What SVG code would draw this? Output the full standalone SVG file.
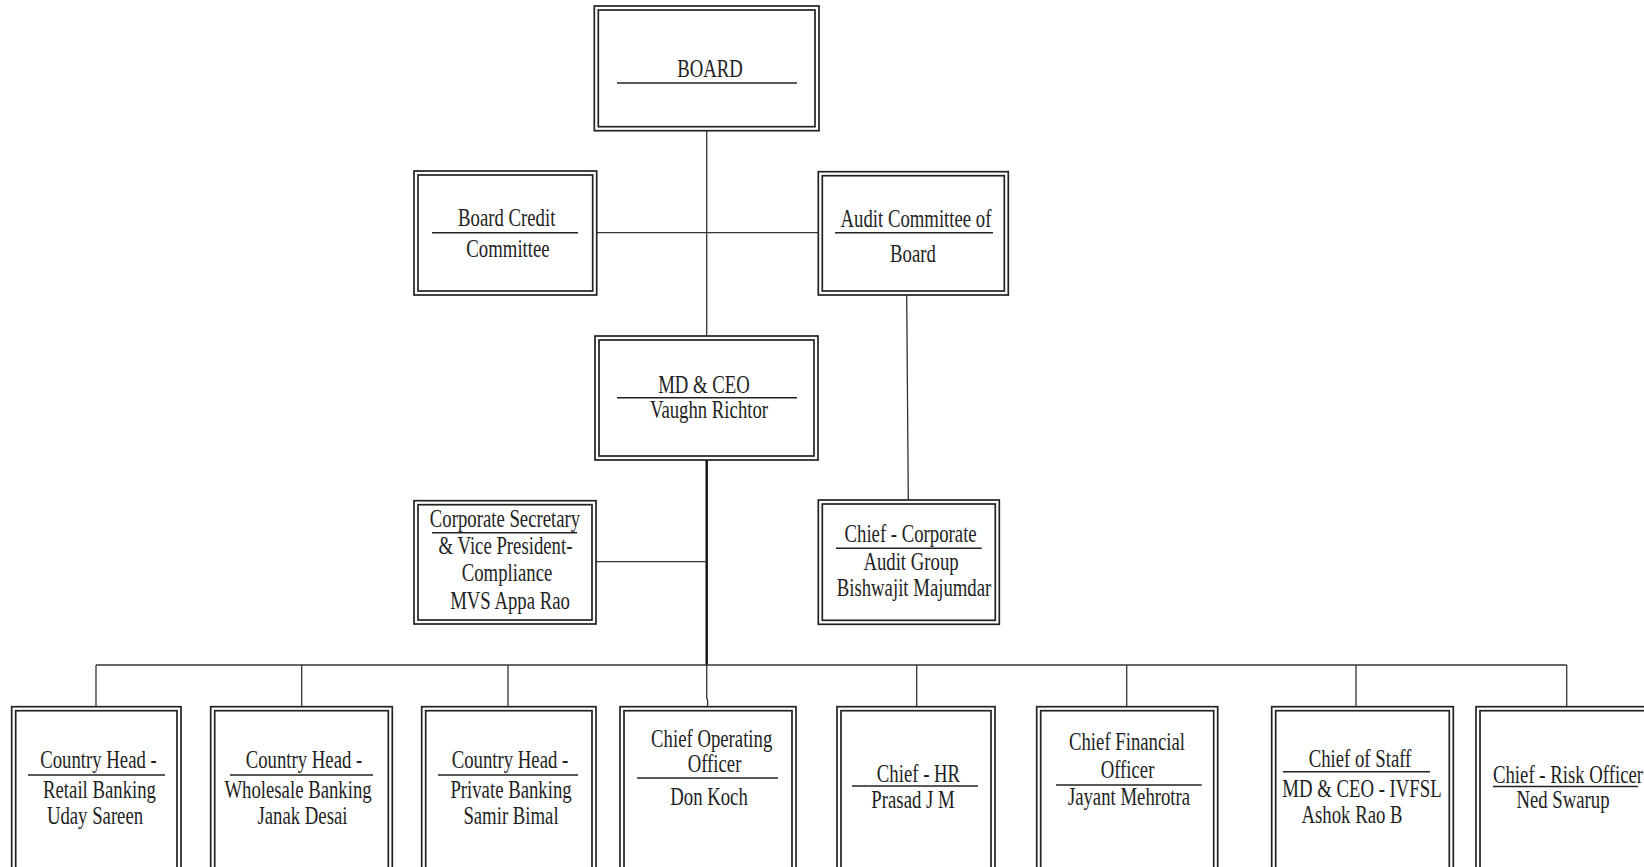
<svg xmlns="http://www.w3.org/2000/svg" width="1644" height="867" viewBox="0 0 1644 867">
<style>
.o{fill:none;stroke:#222;stroke-width:1.7}
.i{fill:none;stroke:#222;stroke-width:1.7}
.ul{stroke:#222;stroke-width:1.6}
.c{fill:none;stroke:#333;stroke-width:1.3}
.ct{fill:none;stroke:#111;stroke-width:2.4}
text{font-family:"Liberation Serif","Times New Roman",serif;font-size:25px;fill:#1e1e1e;text-anchor:middle}
.s{text-anchor:start}
</style>
<rect width="1644" height="867" fill="#fff"/>
<g id="connectors">
<line class="c" x1="706.7" y1="130.7" x2="706.7" y2="336"/>
<line class="c" x1="596.7" y1="232.7" x2="818.3" y2="232.7"/>
<line class="c" x1="906.7" y1="295" x2="908.3" y2="500"/>
<line class="ct" x1="706.7" y1="460" x2="706.7" y2="665"/>
<line class="c" x1="596" y1="561.7" x2="706.7" y2="561.7"/>
<line class="c" x1="96" y1="665" x2="1566.7" y2="665"/>
<line class="c" x1="96" y1="665" x2="96" y2="706.7"/>
<line class="c" x1="301.7" y1="665" x2="301.7" y2="706.7"/>
<line class="c" x1="508" y1="665" x2="508" y2="706.7"/>
<path class="c" d="M706.7 665 L706.7 698 L707.6 700 L707.6 706.7"/>
<line class="c" x1="916.7" y1="665" x2="916.7" y2="706.7"/>
<line class="c" x1="1126.7" y1="665" x2="1126.7" y2="706.7"/>
<line class="c" x1="1356" y1="665" x2="1356" y2="706.7"/>
<line class="c" x1="1566.7" y1="665" x2="1566.7" y2="706.7"/>
</g>
<g id="board">
<rect class="o" x="594.3" y="6" width="224.7" height="124.7"/>
<rect class="i" x="598.3" y="10" width="216.7" height="116.7"/>
<text transform="translate(710 77) scale(0.75 1)">BOARD</text>
<line class="ul" x1="617" y1="83" x2="797" y2="83"/>
</g>
<g id="board-credit">
<rect class="o" x="414" y="171" width="182.7" height="124"/>
<rect class="i" x="418" y="175" width="174.7" height="116"/>
<text transform="translate(506.7 225.7) scale(0.75 1)">Board Credit</text>
<line class="ul" x1="432" y1="232.7" x2="578" y2="232.7"/>
<text transform="translate(508 256.7) scale(0.75 1)">Committee</text>
</g>
<g id="audit-committee">
<rect class="o" x="818.3" y="171.7" width="190" height="123.3"/>
<rect class="i" x="822.3" y="175.7" width="182" height="115.3"/>
<text transform="translate(916 226.7) scale(0.75 1)">Audit Committee of</text>
<line class="ul" x1="835" y1="232.7" x2="993" y2="232.7"/>
<text transform="translate(913 261.7) scale(0.75 1)">Board</text>
</g>
<g id="md-ceo">
<rect class="o" x="595" y="336" width="223" height="124"/>
<rect class="i" x="599" y="340" width="215" height="116"/>
<text transform="translate(704 392.7) scale(0.75 1)">MD &amp; CEO</text>
<line class="ul" x1="617" y1="397.7" x2="797" y2="397.7"/>
<text transform="translate(709 418.3) scale(0.75 1)">Vaughn Richtor</text>
</g>
<g id="corporate-secretary">
<rect class="o" x="414" y="500.7" width="182" height="123.3"/>
<rect class="i" x="418" y="504.7" width="174" height="115.3"/>
<text transform="translate(505 527) scale(0.75 1)">Corporate Secretary</text>
<line class="ul" x1="432" y1="532.7" x2="577" y2="532.7"/>
<text transform="translate(505.5 554) scale(0.75 1)">&amp; Vice President-</text>
<text transform="translate(507 581) scale(0.75 1)">Compliance</text>
<text transform="translate(510 609) scale(0.75 1)">MVS Appa Rao</text>
</g>
<g id="chief-corporate-audit">
<rect class="o" x="818.3" y="500" width="181" height="124.3"/>
<rect class="i" x="822.3" y="504" width="173" height="116.3"/>
<text transform="translate(910.6 541.7) scale(0.75 1)">Chief - Corporate</text>
<line class="ul" x1="836" y1="548.3" x2="981.7" y2="548.3"/>
<text transform="translate(911 570) scale(0.75 1)">Audit Group</text>
<text transform="translate(914 596) scale(0.75 1)">Bishwajit Majumdar</text>
</g>
<g id="retail-banking">
<rect class="o" x="11.7" y="706.7" width="169.3" height="180"/>
<rect class="i" x="15.7" y="710.7" width="161.3" height="180"/>
<text transform="translate(98.5 768) scale(0.75 1)">Country Head -</text>
<line class="ul" x1="28" y1="775" x2="165" y2="775"/>
<text transform="translate(99.5 798) scale(0.75 1)">Retail Banking</text>
<text transform="translate(95 824) scale(0.75 1)">Uday Sareen</text>
</g>
<g id="wholesale-banking">
<rect class="o" x="210.7" y="706.7" width="181.6" height="180"/>
<rect class="i" x="214.7" y="710.7" width="173.6" height="180"/>
<text transform="translate(304 768) scale(0.75 1)">Country Head -</text>
<line class="ul" x1="230" y1="775" x2="373" y2="775"/>
<text transform="translate(298 798) scale(0.75 1)">Wholesale Banking</text>
<text transform="translate(302.5 824) scale(0.75 1)">Janak Desai</text>
</g>
<g id="private-banking">
<rect class="o" x="421.7" y="706.7" width="174.3" height="180"/>
<rect class="i" x="425.7" y="710.7" width="166.3" height="180"/>
<text transform="translate(510 768) scale(0.75 1)">Country Head -</text>
<line class="ul" x1="438" y1="775" x2="578" y2="775"/>
<text transform="translate(511 798) scale(0.75 1)">Private Banking</text>
<text transform="translate(511 824) scale(0.75 1)">Samir Bimal</text>
</g>
<g id="coo">
<rect class="o" x="620" y="706.7" width="176" height="180"/>
<rect class="i" x="624" y="710.7" width="168" height="180"/>
<text transform="translate(711.7 747) scale(0.75 1)">Chief Operating</text>
<text transform="translate(714.5 772) scale(0.75 1)">Officer</text>
<line class="ul" x1="637" y1="778" x2="778" y2="778"/>
<text transform="translate(709 805) scale(0.75 1)">Don Koch</text>
</g>
<g id="chief-hr">
<rect class="o" x="837" y="706.7" width="158" height="180"/>
<rect class="i" x="841" y="710.7" width="150" height="180"/>
<text transform="translate(918.5 781.7) scale(0.75 1)">Chief - HR</text>
<line class="ul" x1="852" y1="786" x2="978" y2="786"/>
<text transform="translate(913 808) scale(0.75 1)">Prasad J M</text>
</g>
<g id="cfo">
<rect class="o" x="1036.7" y="706.7" width="181" height="180"/>
<rect class="i" x="1040.7" y="710.7" width="173" height="180"/>
<text transform="translate(1127 750) scale(0.75 1)">Chief Financial</text>
<text transform="translate(1127.5 778) scale(0.75 1)">Officer</text>
<line class="ul" x1="1056" y1="785" x2="1201.7" y2="785"/>
<text transform="translate(1129 805) scale(0.75 1)">Jayant Mehrotra</text>
</g>
<g id="chief-of-staff">
<rect class="o" x="1271.7" y="706.7" width="181.6" height="180"/>
<rect class="i" x="1275.7" y="710.7" width="173.6" height="180"/>
<text transform="translate(1360 766.7) scale(0.75 1)">Chief of Staff</text>
<line class="ul" x1="1283" y1="771.7" x2="1430" y2="771.7"/>
<text transform="translate(1362 796.7) scale(0.75 1)">MD &amp; CEO - IVFSL</text>
<text transform="translate(1352 823) scale(0.75 1)">Ashok Rao B</text>
</g>
<g id="chief-risk">
<rect class="o" x="1476" y="706.7" width="190" height="180"/>
<rect class="i" x="1480" y="710.7" width="182" height="180"/>
<text class="s" transform="translate(1493 783) scale(0.75 1)">Chief - Risk Officer</text>
<line class="ul" x1="1493" y1="786.5" x2="1638" y2="786.5"/>
<text transform="translate(1563 808) scale(0.75 1)">Ned Swarup</text>
</g>
</svg>
